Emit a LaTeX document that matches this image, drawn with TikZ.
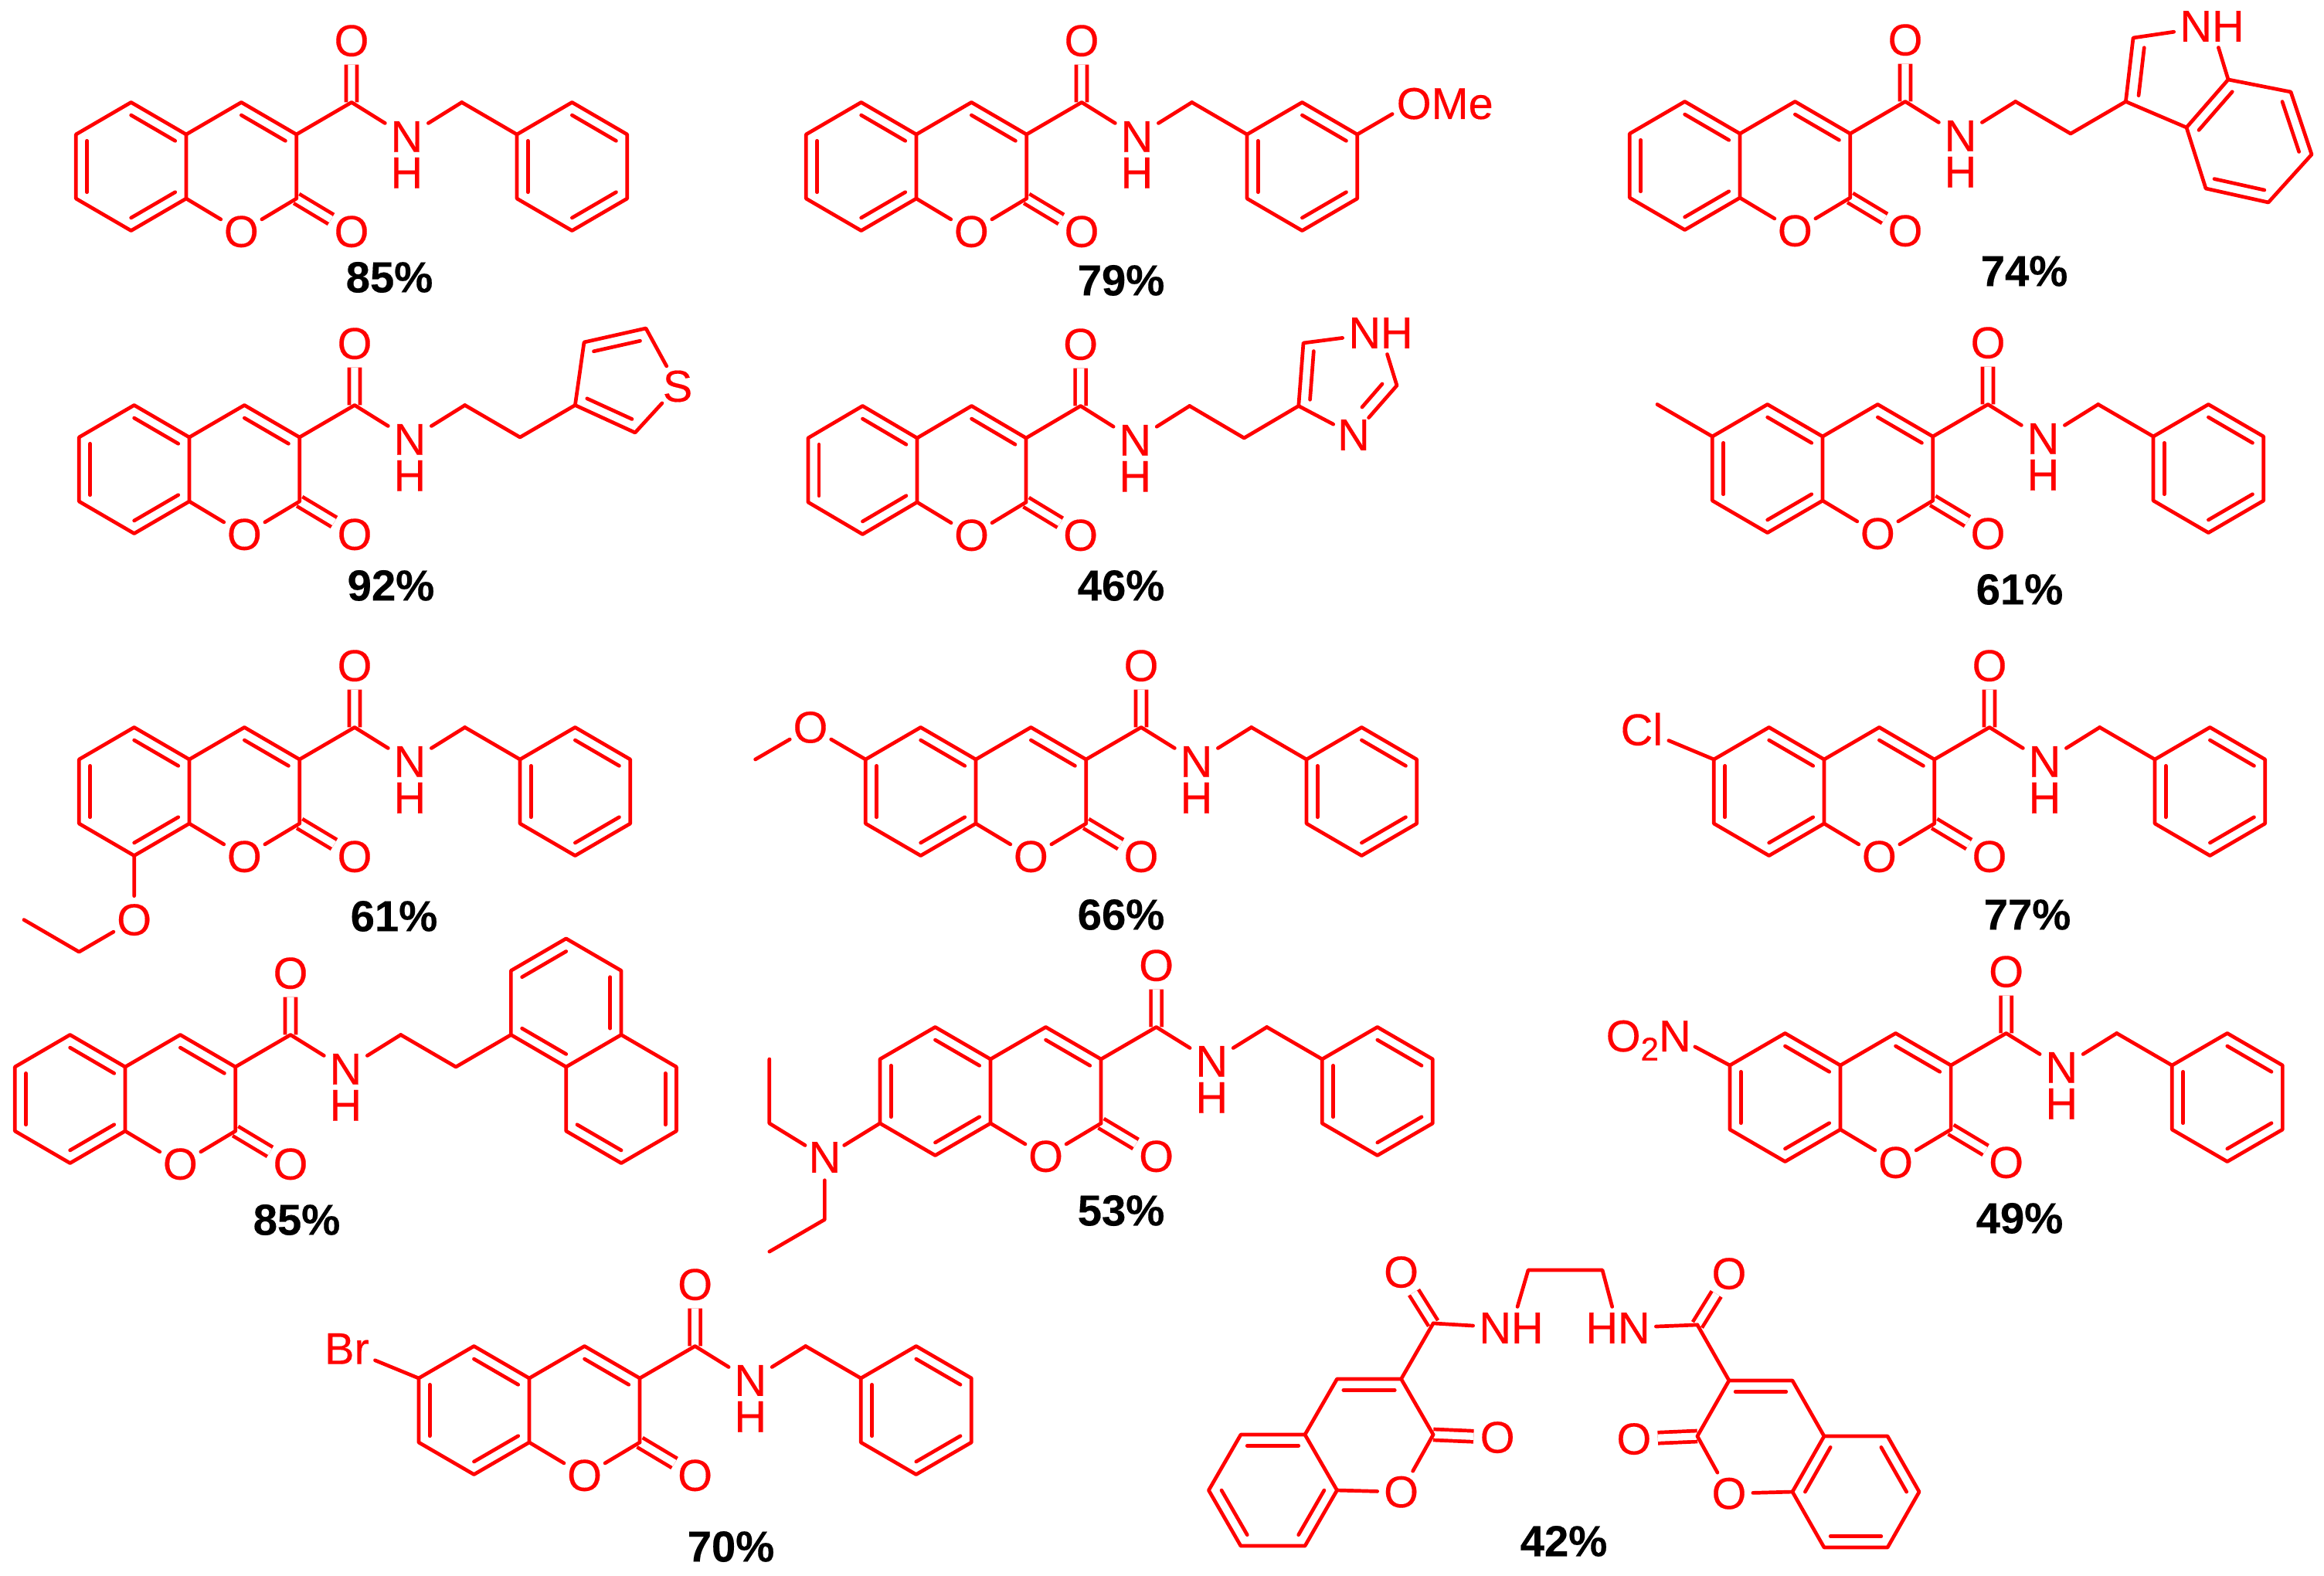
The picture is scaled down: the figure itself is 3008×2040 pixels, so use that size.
\documentclass[tikz,border=0pt]{standalone}
\usepackage{fontspec}
\setmainfont{Liberation Sans}
\newfontfamily\labelfont[FakeBold=.3,BoldFeatures={FakeBold=.3}]{Liberation Sans}
\usetikzlibrary{calc}
\tikzset{
	bond/.style={draw=red,line width=.047cm,line cap=round,line join=round},
	dbond/.style={draw=red,line width=.047cm,double=white,double distance=.093cm},
	tolabel/.style={shorten >=.3cm},
	atom/.style={circle,inner sep=0pt,minimum size=.58cm,text=red,font=\labelfont\fontsize{16.4}{18}\selectfont},
	grp/.style={rectangle,inner sep=.07cm,text=red,font=\labelfont\fontsize{16.4}{18}\selectfont},
	amine/.style={grp,inner xsep=.065cm,inner ysep=0pt},
	yield/.style={inner sep=0pt,text=black,font=\labelfont\bfseries\fontsize{16}{18}\selectfont},
	mol/.style 2 args={shift={(#1,#2)},x=.713cm,y=-.415cm},
	mola/.style 2 args={shift={(#1,#2)},x=.415cm,y=-.72cm},
	molb/.style 2 args={shift={(#1,#2)},x=-.41cm,y=-.72cm}
}
\newcommand{\inbond}[4][.2]{\draw[bond] ($(#2)!#1!(#4)$)--($(#3)!#1!(#4)$);}
\newcommand{\coumarin}[1]{%
	\foreach \n/\u/\v in {j4/0/0,j8/0/2,c4/1/-1,c3/2/0,c2/2/2,c5/-1/-1,c6/-2/0,c7/-2/2,c8/-1/3,c9/3/-1,c10/5/-1,r1/-1/1,r2/1/1}
		\coordinate (#1\n) at (\u,\v);
	\node[atom] (#1o1) at (1,3.03) {O};
	\node[atom] (#1o2) at (3,3.03) {O};
	\node[atom] (#1o3) at (3,-2.92) {O};
	\node[amine] (#1n) at (4,.07) {N};
	\node[grp,inner sep=0pt] (#1h) at (4,1.2) {H};
	\draw[dbond] (#1c2)--(#1o2) (#1c9)--(#1o3);
	\draw[bond] (#1j4)--(#1c5)--(#1c6)--(#1c7)--(#1c8)--(#1j8)--cycle;
	\draw[bond] (#1j4)--(#1c4)--(#1c3)--(#1c2) (#1j8)--(#1o1)--(#1c2) (#1c3)--(#1c9)--(#1n)--(#1c10);
	\inbond{#1c5}{#1j4}{#1r1}
	\inbond{#1c6}{#1c7}{#1r1}
	\inbond{#1c8}{#1j8}{#1r1}
	\inbond{#1c4}{#1c3}{#1r2}
}
\newcommand{\phenyl}[1]{%
	\foreach \n/\u/\v in {c11/6/0,c13/7/-1,c14/8/0,c15/8/2,c16/7/3,c17/6/2,r3/7/1}
		\coordinate (#1\n) at (\u,\v);
	\draw[bond] (#1c10)--(#1c11)--(#1c13)--(#1c14)--(#1c15)--(#1c16)--(#1c17)--(#1c11);
	\inbond{#1c13}{#1c14}{#1r3}
	\inbond{#1c11}{#1c17}{#1r3}
	\inbond{#1c16}{#1c15}{#1r3}
}
\newcommand{\flipcoumarin}[1]{%
	\foreach \n/\u/\v in {j4/0/0,j8/1/1,c4/1/-1,c3/3/-1,c2/4/0,c5/-2/0,c6/-3/1,c7/-2/2,c8/0/2,c9/4/-2,r1/-1/1,r2/2/0}
		\coordinate (#1\n) at (\u,\v);
	\node[atom] (#1o1) at (3,1.03) {O};
	\node[atom] (#1o2) at (6,.05) {O};
	\node[atom] (#1o3) at (3,-2.92) {O};
	\draw[dbond] (#1c2)--(#1o2) (#1c9)--(#1o3);
	\draw[bond] (#1j4)--(#1c5)--(#1c6)--(#1c7)--(#1c8)--(#1j8)--cycle;
	\draw[bond] (#1j4)--(#1c4)--(#1c3)--(#1c2) (#1j8)--(#1o1)--(#1c2) (#1c3)--(#1c9);
	\inbond{#1c4}{#1c3}{#1r2}
}
\begin{document}
\begin{tikzpicture}[x=.01cm,y=-.01cm]
	\useasboundingbox (0,0) rectangle (3008,2040);
	\begin{scope}[mol={241}{174}]
		\coumarin{a}
		\phenyl{a}
	\end{scope}
	\begin{scope}[mol={1186}{174}]
		\coumarin{b}
		\phenyl{b}
		\coordinate (bo) at (9,-1);
		\draw[bond,tolabel] (bc14)--(bo);
	\end{scope}
	\node[grp,inner sep=0pt,anchor=base west] (bome) at (1807,154) {OMe};
	\begin{scope}[mol={2252}{173}]
		\coumarin{c}
		\coordinate (cc11) at (6,0);
		\coordinate (cc12) at (7,-1);
		\draw[bond] (cc10)--(cc11)--(cc12);
	\end{scope}
	\foreach \n/\u/\v in {ci2/2761/49,ci3a/2830/165,ci7a/2884/103,ci4/2855/244,ci5/2936/262,ci6/2992/200,ci7/2965/119,ci8/2818/100,ci9/2910/182}
		\coordinate (\n) at (\u,\v);
	\node[grp] (cnh) at (2863,34) {NH};
	\draw[bond] (cc12)--(ci2)--(cnh)--(ci7a)--(ci7)--(ci6)--(ci5)--(ci4)--(ci3a)--(cc12) (ci3a)--(ci7a);
	\inbond[.25]{cc12}{ci2}{ci8}
	\inbond{ci7a}{ci3a}{ci9}
	\inbond{ci7}{ci6}{ci9}
	\inbond{ci4}{ci5}{ci9}
	\begin{scope}[mol={245}{566}]
		\coumarin{d}
		\coordinate (dc11) at (6,0);
		\coordinate (dc12) at (7,-1);
		\draw[bond] (dc10)--(dc11)--(dc12);
	\end{scope}
	\foreach \n/\u/\v in {dt2/756/443,dt3/836/425,dt5/822/560,dt6/806/490}
		\coordinate (\n) at (\u,\v);
	\node[atom] (ds) at (877,500) {S};
	\draw[bond] (dc12)--(dt2)--(dt3)--(ds)--(dt5)--(dc12);
	\inbond[.25]{dt2}{dt3}{dt6}
	\inbond[.25]{dc12}{dt5}{dt6}
	\begin{scope}[mol={1187}{567},x=.705cm]
		\coumarin{e}
		\coordinate (ec11) at (6,0);
		\coordinate (ec12) at (7,-1);
		\draw[bond] (ec10)--(ec11)--(ec12);
	\end{scope}
	\foreach \n/\u/\v in {ei5/1687/444,ei2/1808/499,ei6/1745/490,ei7/1789/497,ei8/1763/527}
		\coordinate (\n) at (\u,\v);
	\node[grp] (enh) at (1787,431) {NH};
	\node[atom] (en3) at (1752,563) {N};
	\draw[bond] (ec12)--(ei5)--(enh)--(ei2)--(en3)--(ec12);
	\inbond[.23]{ec12}{ei5}{ei6}
	\draw[bond] (ei7)--(ei8);
	\begin{scope}[mol={2359}{565}]
		\coumarin{f}
		\phenyl{f}
		\coordinate (fme) at (-3,-1);
		\draw[bond] (fc6)--(fme);
	\end{scope}
	\begin{scope}[mol={245}{983}]
		\coumarin{g}
		\phenyl{g}
		\node[atom] (goe) at (-1,5) {O};
		\coordinate (get1) at (-2,6);
		\coordinate (get2) at (-3,5);
		\draw[bond] (gc8)--(goe)--(get1)--(get2);
	\end{scope}
	\begin{scope}[mol={1263}{983}]
		\coumarin{h}
		\phenyl{h}
		\node[atom] (home) at (-3,-1) {O};
		\coordinate (hme) at (-4,0);
		\draw[bond] (hc6)--(home)--(hme);
	\end{scope}
	\begin{scope}[mol={2361}{983}]
		\coumarin{i}
		\phenyl{i}
		\node[grp] (icl) at (-3.31,-.94) {Cl};
		\draw[bond] (ic6)--(icl);
	\end{scope}
	\begin{scope}[mol={162}{1381}]
		\coumarin{j}
		\foreach \n/\u/\v in {c11/6/0,c12/7/-1,c13/7/-3,c14/8/-4,c15/9/-3,c16/9/-1,c17/8/0,c18/10/0,c19/10/2,c20/9/3,c21/8/2,r3/8/-2,r4/9/1}
			\coordinate (j\n) at (\u,\v);
		\draw[bond] (jc10)--(jc11)--(jc12)--(jc13)--(jc14)--(jc15)--(jc16)--(jc17)--(jc12) (jc16)--(jc18)--(jc19)--(jc20)--(jc21)--(jc17);
		\inbond{jc13}{jc14}{jr3}
		\inbond{jc15}{jc16}{jr3}
		\inbond{jc12}{jc17}{jr3}
		\inbond{jc18}{jc19}{jr4}
		\inbond{jc21}{jc20}{jr4}
	\end{scope}
	\begin{scope}[mol={1282}{1371},x=.715cm]
		\coumarin{k}
		\phenyl{k}
		\node[atom] (kn2) at (-3,3.06) {N};
		\foreach \n/\u/\v in {ke1/-4/2,ke2/-4/0,ke3/-3/5,ke4/-4/6}
			\coordinate (\n) at (\u,\v);
		\draw[bond] (kc7)--(kn2)--(ke1)--(ke2) (kn2)--(ke3)--(ke4);
	\end{scope}
	\begin{scope}[mol={2382}{1379},x=.715cm]
		\coumarin{l}
		\phenyl{l}
		\coordinate (ln2) at (-3,-.92);
		\draw[bond,tolabel] (lc6)--(ln2);
	\end{scope}
	\node[grp,inner sep=0pt,anchor=base west] (lno) at (2078,1361) {O\raisebox{-.2em}{\fontsize{12}{12}\selectfont 2}N};
	\begin{scope}[mol={685}{1784},x=.715cm]
		\coumarin{m}
		\phenyl{m}
		\node[grp] (mbr) at (-3.3,-.92) {Br};
		\draw[bond] (mc6)--(mbr);
	\end{scope}
	\begin{scope}[mola={1689}{1857}]
		\flipcoumarin{n}
		\inbond{nc5}{nj4}{nr1}
		\inbond{nc6}{nc7}{nr1}
		\inbond{nc8}{nj8}{nr1}
	\end{scope}
	\begin{scope}[molb={2361}{1859}]
		\flipcoumarin{o}
		\inbond{oj4}{oj8}{or1}
		\inbond{oc5}{oc6}{or1}
		\inbond{oc7}{oc8}{or1}
	\end{scope}
	\node[grp] (nnh) at (1956,1719) {NH};
	\node[grp] (onh) at (2094,1719) {HN};
	\coordinate (nch) at (1978,1644);
	\coordinate (och) at (2074,1644);
	\draw[bond] (nc9)--(nnh)--(nch)--(och)--(onh)--(oc9);
	\foreach \n/\u/\v/\t in {y1/504/359/85,y2/1451/363/79,y3/2620/351/74,y4/506/758/92,y5/1451/758/46,y6/2614/763/61,y7/510/1186/61,y8/1451/1184/66,y9/2624/1184/77,y10/384/1579/85,y11/1451/1567/53,y12/2614/1577/49,y13/946/2002/70,y14/2024/1995/42}
		\node[yield] (\n) at (\u,\v) {\t\%};
\end{tikzpicture}
\end{document}
